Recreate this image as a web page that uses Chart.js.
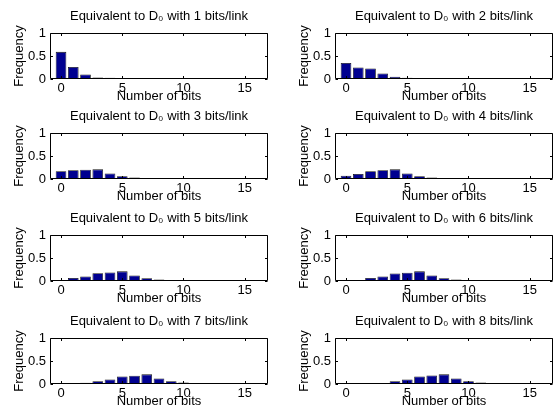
<!DOCTYPE html>
<html><head><meta charset="utf-8">
<script src="https://cdn.jsdelivr.net/npm/chart.js@4"></script>
<style>
html,body{margin:0;padding:0;background:#fff;}
body{width:557px;height:411px;position:relative;overflow:hidden;}
canvas{position:absolute;}
</style></head><body>
<script>
// ---- data ----
const bits = [0,1,2,3,4,5,6,7,8,9,10,11,12,13,14,15,16];
const xTickValues = [0,5,10,15];
const yTickValues = [0,0.5,1];
const yTickLabels = ['0','0.5','1'];
const bitsPerLink = [1,2,3,4,5,6,7,8];
const freq1 = [0.59,0.26,0.10,0.035,0.025,0.013,0.006,0.003,0,0,0,0,0,0,0,0,0];
const freq2 = [0.35,0.25,0.23,0.12,0.05,0.025,0.012,0.006,0.003,0,0,0,0,0,0,0,0];
const freq3 = [0.17,0.19,0.20,0.21,0.12,0.06,0.035,0.01,0.004,0,0,0,0,0,0,0,0];
const freq4 = [0.07,0.11,0.17,0.19,0.21,0.12,0.06,0.035,0.01,0.004,0,0,0,0,0,0,0];
const freq5 = [0.02,0.065,0.10,0.17,0.185,0.21,0.12,0.06,0.035,0.01,0.004,0,0,0,0,0,0];
const freq6 = [0.003,0.02,0.065,0.10,0.165,0.18,0.21,0.12,0.06,0.035,0.01,0.004,0,0,0,0,0];
const freq7 = [0,0.002,0.025,0.06,0.10,0.165,0.18,0.21,0.12,0.06,0.035,0.01,0.004,0,0,0,0];
const freq8 = [0,0,0.003,0.02,0.06,0.10,0.165,0.185,0.21,0.12,0.06,0.03,0.01,0.004,0,0,0];
const panelData = [freq1,freq2,freq3,freq4,freq5,freq6,freq7,freq8];

// ---- layout ----
const colLeft = [0,285];
const rowTop = [0,100,202,305];
const CW = 278, CH = 104;
const FONT = "'Liberation Sans', Arial, Helvetica, sans-serif";

Chart.defaults.font.family = FONT;
Chart.defaults.font.size = 13;
Chart.defaults.color = '#000';

const boxPlugin = {
  id: 'matlabBox',
  afterDatasetsDraw(chart) {
    const {ctx, chartArea: a, scales: {x, y}} = chart;
    ctx.save();
    ctx.strokeStyle = '#000';
    ctx.lineWidth = 1;
    const L = Math.round(a.left) + 0.5, R = Math.round(a.right) - 0.5;
    const T = Math.round(a.top) + 0.5, B = Math.round(a.bottom) - 0.5;
    ctx.beginPath();
    ctx.rect(L, T, R - L, B - T);
    const tl = 2.5;
    xTickValues.forEach(v => {
      const px = Math.round(x.getPixelForValue(v)) + 0.5;
      ctx.moveTo(px, T); ctx.lineTo(px, T + tl);
      ctx.moveTo(px, B); ctx.lineTo(px, B - tl);
    });
    yTickValues.forEach(v => {
      const py = Math.round(y.getPixelForValue(v)) + 0.5;
      ctx.moveTo(L, py); ctx.lineTo(L + tl, py);
      ctx.moveTo(R, py); ctx.lineTo(R - tl, py);
    });
    ctx.stroke();
    ctx.restore();
  }
};

panelData.forEach((vals, i) => {
  const c = document.createElement('canvas');
  c.width = CW; c.height = CH;
  c.style.left = colLeft[i % 2] + 'px';
  c.style.top = rowTop[Math.floor(i / 2)] + 'px';
  c.style.width = CW + 'px'; c.style.height = CH + 'px';
  document.body.appendChild(c);
  new Chart(c, {
    type: 'bar',
    data: {
      datasets: [{
        data: bits.map((b, k) => ({x: b, y: vals[k]})),
        backgroundColor: '#000090',
        borderColor: '#111111',
        borderWidth: 0.8,
        barPercentage: 0.87,
        categoryPercentage: 1.0
      }]
    },
    options: {
      responsive: false,
      animation: false,
      devicePixelRatio: 1,
      layout: {padding: {left: 0, right: 10, top: 0, bottom: 0}},
      plugins: {
        legend: {display: false},
        tooltip: {enabled: false},
        title: {
          display: true,
          fullSize: false,
          text: 'Equivalent to D\u2080 with ' + bitsPerLink[i] + ' bits/link',
          font: {size: 13, weight: 'normal', family: FONT, lineHeight: 1.2},
          color: '#000',
          padding: {top: 8.5, bottom: 8.9}
        }
      },
      scales: {
        x: {
          type: 'linear',
          min: -0.9, max: 16.9,
          offset: false,
          grid: {display: false, drawTicks: false},
          border: {display: false},
          ticks: {padding: 2, font: {size: 13}, color: '#000', maxRotation: 0, autoSkip: false},
          afterBuildTicks: s => { s.ticks = xTickValues.map(v => ({value: v})); },
          afterFit: s => { s.height = 25; },
          title: {display: true, text: 'Number of bits', font: {size: 13}, color: '#000', padding: {top: 0, bottom: 0}}
        },
        y: {
          min: 0, max: 1,
          grid: {display: false, drawTicks: false},
          border: {display: false},
          ticks: {
            padding: 4, font: {size: 13}, color: '#000',
            callback: (v, idx) => yTickLabels[idx]
          },
          afterBuildTicks: s => { s.ticks = yTickValues.map(v => ({value: v})); },
          afterFit: s => { s.width = 50; },
          title: {display: true, text: 'Frequency', font: {size: 13}, color: '#000', padding: {top: 12, bottom: 0}}
        }
      }
    },
    plugins: [boxPlugin]
  });
});
</script>
</body></html>
